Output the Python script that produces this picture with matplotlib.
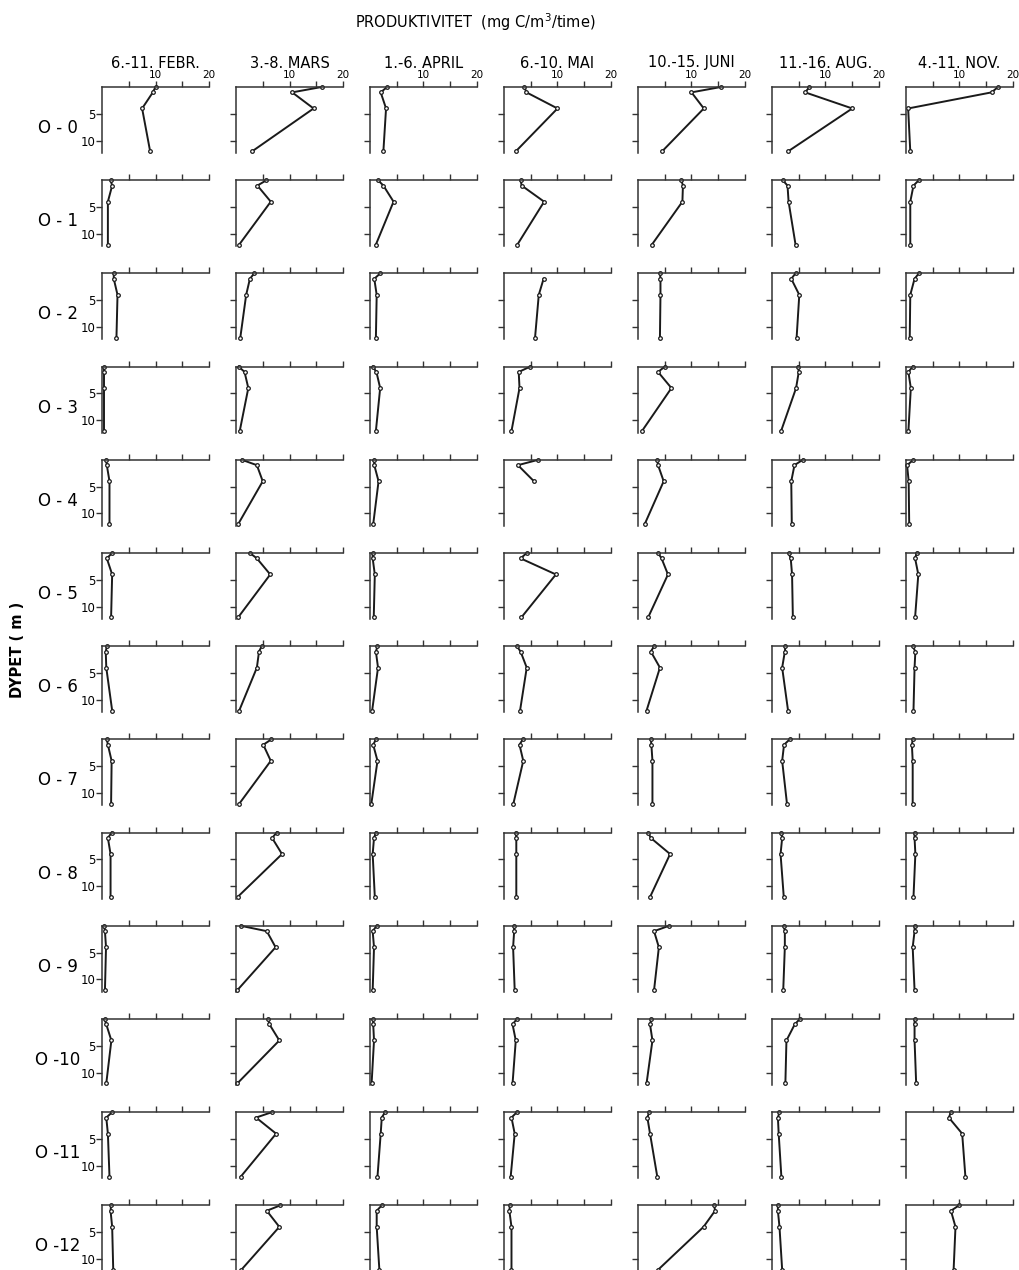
import numpy as np
import matplotlib.pyplot as plt

plt.rcParams['font.family'] = ['DejaVu Sans']

depths = [0, 1, 4, 12]
months = ["6.-11. FEBR.", "3.-8. MARS", "1.-6. APRIL", "6.-10. MAI",
          "10.-15. JUNI", "11.-16. AUG.", "4.-11. NOV."]
stations = ["O - 0", "O - 1", "O - 2", "O - 3", "O - 4", "O - 5", "O - 6",
            "O - 7", "O - 8", "O - 9", "O -10", "O -11", "O -12"]
nan = np.nan

# productivity (mg C/m3/time) at depths 0, 1, 4, 12 m, one row per station
febr = [[10, 9.5, 7.5, 9], [1.6, 1.9, 1.1, 1.1], [2.2, 2.2, 2.9, 2.7],
        [0.4, 0.4, 0.4, 0.4], [0.8, 0.9, 1.4, 1.4], [1.9, 0.9, 1.9, 1.7],
        [0.9, 0.7, 0.8, 1.9], [0.9, 1.1, 1.8, 1.7], [1.8, 1.1, 1.6, 1.6],
        [0.4, 0.55, 0.75, 0.55], [0.5, 0.8, 1.75, 0.8], [1.9, 0.8, 1.1, 1.4],
        [1.7, 1.6, 1.9, 2.1]]
mars = [[16, 10.5, 14.5, 3], [5.7, 4, 6.5, 0.6], [3.4, 2.6, 1.9, 0.8],
        [0.5, 1.6, 2.3, 0.7], [1.1, 3.9, 5, 0.4], [2.6, 3.9, 6.4, 0.4],
        [4.8, 4.3, 3.9, 0.6], [6.6, 5.1, 6.5, 0.6], [7.6, 6.75, 8.6, 0.3],
        [0.9, 5.75, 7.4, 0.25], [6, 6.25, 8.1, 0.25], [6.7, 3.75, 7.5, 0.9],
        [8.25, 5.75, 8.1, 1]]
april = [[3.2, 2, 3, 2.5], [1.5, 2.5, 4.4, 1.1], [1.9, 0.8, 1.25, 1.1],
         [0.5, 1.2, 1.9, 1.1], [0.8, 0.8, 1.6, 0.6], [0.5, 0.5, 0.9, 0.7],
         [1.4, 1.1, 1.5, 0.4], [1.1, 0.6, 1.4, 0.25], [1.1, 0.75, 0.5, 0.9],
         [1.25, 0.5, 0.75, 0.5], [0.6, 0.6, 0.75, 0.3], [2.8, 2.2, 2, 1.4],
         [2.2, 1.25, 1.25, 1.75]]
mai = [[3.8, 4.2, 10, 2.2], [3.1, 3.3, 7.5, 2.5], [nan, 7.4, 6.5, 5.8],
       [4.9, 2.75, 2.9, 1.4], [6.4, 2.6, 5.6, nan], [4.25, 3.1, 9.7, 3.25],
       [2.4, 3.1, 4.25, 3], [3.5, 2.9, 3.6, 1.75], [2.2, 2.3, 2.3, 2.3],
       [1.9, 1.9, 1.7, 2], [2.4, 1.6, 2.2, 1.6], [2.4, 1.4, 2, 1.25],
       [1.1, 1, 1.4, 1.4]]
juni = [[15.5, 10, 12.3, 4.5], [8.1, 8.4, 8.3, 2.6], [4.1, 4.2, 4.2, 4.1],
        [5, 3.75, 6.25, 0.75], [3.6, 3.75, 4.8, 1.25], [3.75, 4.4, 5.6, 1.9],
        [3, 2.4, 4.1, 1.6], [2.4, 2.5, 2.7, 2.7], [1.9, 2.4, 6, 2.25],
        [5.8, 3, 3.9, 3], [2.5, 2.25, 2.7, 1.6], [2.1, 1.75, 2.25, 3.6],
        [14.25, 14.4, 12.25, 3.75]]
aug = [[7, 6.2, 15, 3], [2, 2.9, 3.1, 4.4], [4.4, 3.6, 5.1, 4.6],
       [4.9, 5, 4.5, 1.7], [5.75, 4.2, 3.6, 3.7], [3.1, 3.5, 3.75, 3.9],
       [2.5, 2.4, 1.9, 3], [3.3, 2.25, 1.9, 2.8], [1.75, 1.9, 1.6, 2.2],
       [2.2, 2.4, 2.4, 2.1], [5.2, 4.25, 2.7, 2.5], [1.4, 1.1, 1.25, 1.75],
       [1.1, 1.1, 1.4, 1.9]]
nov = [[17.2, 16, 0.4, 0.8], [2.4, 1.4, 0.8, 0.8], [2.4, 1.6, 0.8, 0.7],
       [1.25, 0.45, 0.9, 0.45], [1.4, 0.2, 0.5, 0.6], [2, 1.7, 2.3, 1.7],
       [1.25, 1.75, 1.6, 1.4], [1.25, 1.1, 1.25, 1.25], [1.6, 1.6, 1.75, 1.4],
       [1.6, 1.6, 1.25, 1.6], [1.6, 1.6, 1.6, 1.9], [8.4, 8, 10.5, 11.1],
       [9.9, 8.4, 9.25, 8.9]]
columns = [febr, mars, april, mai, juni, aug, nov]

W, H = 1020, 1270
fig = plt.figure(figsize=(W / 100, H / 100), dpi=100)

pw, ph = 107, 66
for c, col in enumerate(columns):
    for r, vals in enumerate(col):
        left = 102 + c * 134
        top = 87 + r * 93.2
        ax = fig.add_axes([left / W, 1 - (top + ph) / H, pw / W, ph / H])
        v = np.array(vals, dtype=float)
        ok = ~np.isnan(v)
        ax.plot(v[ok], np.array(depths)[ok], color='#1a1a1a', lw=1.4,
                marker='o', ms=2.6, mfc='white', mec='#1a1a1a', mew=0.9,
                clip_on=False)
        ax.set_xlim(0, 20)
        ax.set_ylim(12.3, 0)
        for s in ['right', 'bottom']:
            ax.spines[s].set_visible(False)
        for s in ['top', 'left']:
            ax.spines[s].set_linewidth(1.1)
            ax.spines[s].set_color('#333333')
        ax.xaxis.tick_top()
        ax.set_xticks([5, 10, 15, 20])
        ax.tick_params(axis='x', direction='out', length=4, width=1,
                       color='#333333', pad=1, labelsize=7.5)
        ax.set_yticks([5, 10])
        ax.tick_params(axis='y', direction='out', length=4, width=1,
                       color='#333333', pad=1, labelsize=8.5)
        if r == 0:
            ax.set_xticklabels(['', '10', '', '20'])
        else:
            ax.set_xticklabels([])
        if c == 0:
            ax.set_yticklabels(['5', '10'])
        else:
            ax.set_yticklabels([])
        ax.patch.set_alpha(0)
        if r == 0:
            fig.text((left + pw / 2) / W, 1 - 63 / H, months[c],
                     ha='center', va='center', fontsize=10.5)
        if c == 0:
            fig.text(58 / W, 1 - (top + 41) / H, stations[r],
                     ha='center', va='center', fontsize=12)

fig.text(475 / W, 1 - 22 / H, r"PRODUKTIVITET  (mg C/m$^3$/time)",
         ha='center', va='center', fontsize=10.5)
fig.text(18 / W, 1 - 650 / H, "DYPET ( m )", ha='center', va='center',
         rotation=90, fontsize=10.5, fontweight='bold')

fig.savefig("out.png", dpi=100)
